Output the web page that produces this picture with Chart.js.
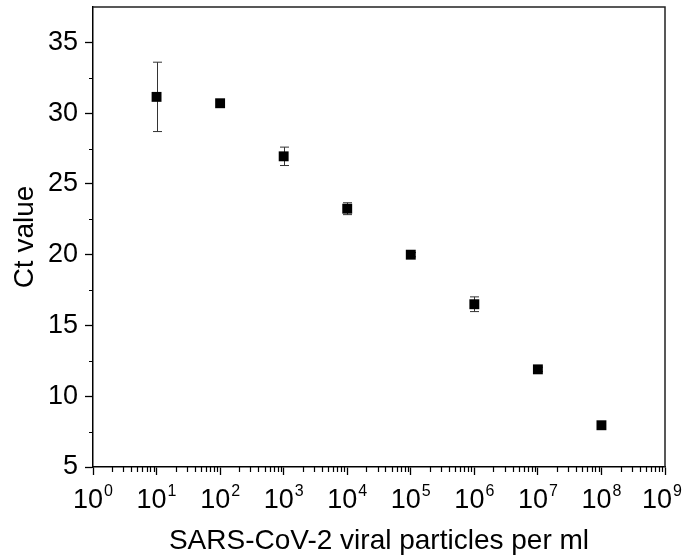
<!DOCTYPE html>
<html>
<head>
<meta charset="utf-8">
<script src="https://cdn.jsdelivr.net/npm/chart.js@4.4.1/dist/chart.umd.min.js"></script>
<style>
  html, body { margin: 0; padding: 0; background: #fff; }
  #wrap { width: 684px; height: 559px; }
</style>
</head>
<body>
<div id="wrap"><canvas id="chart"></canvas></div>
<script>
// ---------- data ----------
const particles = [1e1, 1e2, 1e3, 1e4, 1e5, 1e6, 1e7, 1e8];
const ctValues = [31.15, 30.7, 26.95, 23.25, 20.0, 16.5, 11.9, 7.95];
const ctErrors = [2.45, 0.15, 0.65, 0.42, 0.15, 0.52, 0.15, 0.1];

const xExponents = [0, 1, 2, 3, 4, 5, 6, 7, 8, 9];
const yMajorTicks = [5, 10, 15, 20, 25, 30, 35];
const yMinorTicks = [7.5, 12.5, 17.5, 22.5, 27.5, 32.5];

const FONT = '"Liberation Sans", Arial, sans-serif';

/* --- error bars, minor ticks, frame and 10^n labels --- */
const axisDecor = {
  id: "axisDecor",

  beforeDatasetsDraw(chart) {
    const { ctx, scales: { x, y } } = chart;
    ctx.save();
    ctx.strokeStyle = "#333";
    ctx.lineWidth = 1;
    particles.forEach((p, i) => {
      const px = Math.round(x.getPixelForValue(p)) + 0.5;
      const top = y.getPixelForValue(ctValues[i] + ctErrors[i]);
      const bot = y.getPixelForValue(ctValues[i] - ctErrors[i]);
      ctx.beginPath();
      ctx.moveTo(px, top); ctx.lineTo(px, bot);
      ctx.moveTo(px - 4.5, top); ctx.lineTo(px + 4.5, top);
      ctx.moveTo(px - 4.5, bot); ctx.lineTo(px + 4.5, bot);
      ctx.stroke();
    });
    ctx.restore();
  },

  afterDraw(chart) {
    const { ctx, chartArea: area, scales: { x, y } } = chart;
    ctx.save();

    // top + right frame
    ctx.strokeStyle = "#222";
    ctx.lineWidth = 1.5;
    ctx.beginPath();
    ctx.moveTo(area.left, area.top);
    ctx.lineTo(area.right, area.top);
    ctx.lineTo(area.right, area.bottom);
    ctx.stroke();

    // minor ticks
    ctx.strokeStyle = "#000";
    ctx.lineWidth = 1.2;
    ctx.beginPath();
    yMinorTicks.forEach((v) => {
      const py = Math.round(y.getPixelForValue(v)) + 0.5;
      ctx.moveTo(area.left, py); ctx.lineTo(area.left - 4, py);
    });
    xExponents.slice(0, -1).forEach((e) => {
      for (let m = 2; m <= 9; m++) {
        const px = Math.round(x.getPixelForValue(m * Math.pow(10, e))) + 0.5;
        ctx.moveTo(px, area.bottom); ctx.lineTo(px, area.bottom + 5);
      }
    });
    ctx.stroke();

    // x tick labels with superscripts (last one kept inside the canvas)
    ctx.fillStyle = "#000";
    ctx.textBaseline = "alphabetic";
    ctx.textAlign = "left";
    const baseFont = `27px ${FONT}`;
    const supFont = `16px ${FONT}`;
    xExponents.forEach((e) => {
      ctx.font = baseFont;
      const wBase = ctx.measureText("10").width;
      ctx.font = supFont;
      const wSup = ctx.measureText(String(e)).width;
      const total = wBase + wSup + 1;
      const cx = x.getPixelForValue(Math.pow(10, e));
      const start = Math.min(cx - total / 2, chart.width - 2 - total);
      ctx.font = baseFont;
      ctx.fillText("10", start, 508);
      ctx.font = supFont;
      ctx.fillText(String(e), start + wBase + 1, 496);
    });

    ctx.restore();
  },
};

const points = particles.map((p, i) => ({ x: p, y: ctValues[i] }));

new Chart(document.getElementById("chart"), {
  type: "scatter",
  data: {
    datasets: [{
      label: "Ct",
      data: points,
      pointStyle: "rect",
      pointRadius: 7,
      backgroundColor: "#000",
      borderColor: "#000",
      borderWidth: 0,
      showLine: false,
    }],
  },
  options: {
    responsive: true,
    maintainAspectRatio: false,
    animation: false,
    layout: { padding: { top: 7, right: 19, left: 0, bottom: 0 } },
    plugins: {
      legend: { display: false },
      tooltip: { enabled: false },
    },
    scales: {
      x: {
        type: "logarithmic",
        min: 1,
        max: 1e9,
        afterBuildTicks: (s) => { s.ticks = xExponents.map((e) => ({ value: Math.pow(10, e) })); },
        afterFit: (s) => { s.height = 92; s.paddingLeft = 0; s.paddingRight = 0; },
        ticks: { display: false },
        grid: { drawOnChartArea: false, drawTicks: true, tickLength: 8, color: "#000", tickWidth: 1.3 },
        border: { color: "#000", width: 1.5 },
        title: {
          display: true,
          text: "SARS-CoV-2 viral particles per ml",
          color: "#000",
          font: { family: FONT, size: 28 },
          padding: { top: 0, bottom: 1 },
        },
      },
      y: {
        min: 5,
        max: 37.5,
        afterBuildTicks: (s) => { s.ticks = yMajorTicks.map((v) => ({ value: v })); },
        afterFit: (s) => { s.width = 93; s.paddingTop = 0; s.paddingBottom = 0; },
        ticks: { color: "#000", padding: 7, font: { family: FONT, size: 27 } },
        grid: { drawOnChartArea: false, drawTicks: true, tickLength: 8, color: "#000", tickWidth: 1.3 },
        border: { color: "#000", width: 1.5 },
        title: {
          display: true,
          text: "Ct value",
          color: "#000",
          font: { family: FONT, size: 28 },
          padding: { top: 8, bottom: 0 },
        },
      },
    },
  },
  plugins: [axisDecor],
});
</script>
</body>
</html>
